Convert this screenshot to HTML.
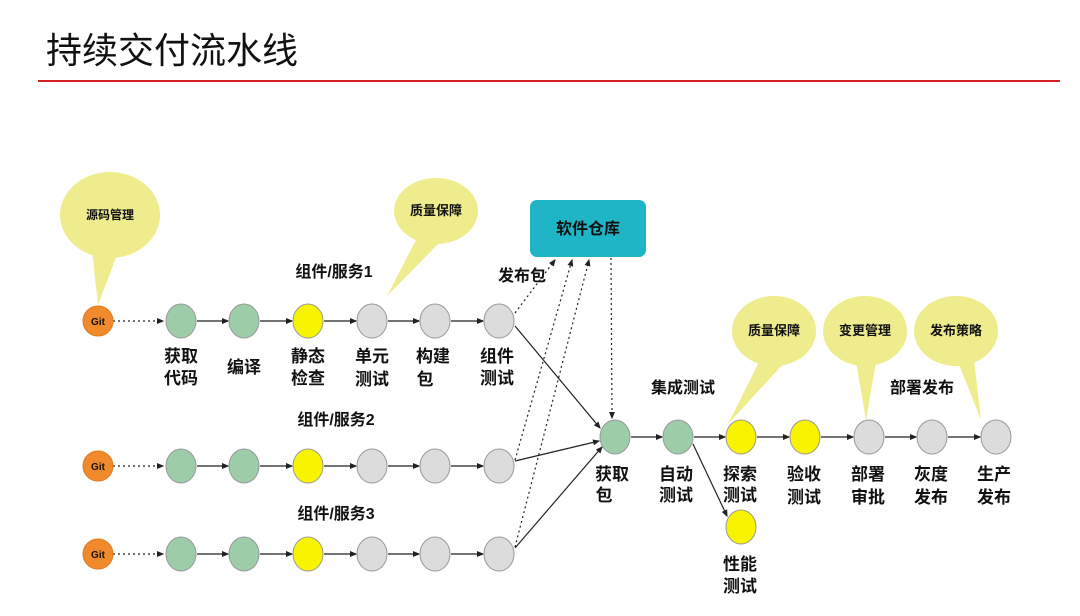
<!DOCTYPE html>
<html><head><meta charset="utf-8"><style>
body{margin:0;background:#fff;}
svg text{font-family:"Liberation Sans","Noto Sans CJK SC",sans-serif;font-weight:bold;fill:#111;}
</style></head><body>
<svg width="1080" height="611" viewBox="0 0 1080 611" xmlns="http://www.w3.org/2000/svg">
<defs>
<marker id="a" markerWidth="6" markerHeight="6" refX="5" refY="3" orient="auto"><path d="M0,0.5 L6,3 L0,5.5z" fill="#222"/></marker>
</defs>
<text x="46" y="63" font-size="36" style="font-weight:normal">持续交付流水线</text>
<line x1="38" y1="81" x2="1060" y2="81" stroke="#d42020" stroke-width="2"/>

<g fill="#eeec8c">
<ellipse cx="110" cy="215" rx="50" ry="43"/><path d="M92,250 L98,305 L118,252z"/>
<ellipse cx="436" cy="211" rx="42" ry="33"/><path d="M418,236 L387,296 L440,242z"/>
<ellipse cx="774" cy="331" rx="42" ry="35"/><path d="M760,360 L728,424 L785,362z"/>
<ellipse cx="865" cy="331" rx="42" ry="35"/><path d="M856,362 L866,420 L876,362z"/>
<ellipse cx="956" cy="331" rx="42" ry="35"/><path d="M958,362 L981,420 L974,360z"/>
</g>
<g font-size="12"><text x="110" y="219" text-anchor="middle">源码管理</text>
<text x="436" y="215" text-anchor="middle" font-size="13">质量保障</text>
<text x="774" y="335" text-anchor="middle" font-size="13">质量保障</text>
<text x="865" y="335" text-anchor="middle" font-size="13">变更管理</text>
<text x="956" y="335" text-anchor="middle" font-size="13">发布策略</text></g>

<rect x="530" y="200" width="116" height="57" rx="7" fill="#1fb5c6"/>
<text x="588" y="234" text-anchor="middle" font-size="16">软件仓库</text>

<g stroke="#222" stroke-width="1.2" fill="none">
<g stroke-dasharray="2,3" marker-end="url(#a)">
<line x1="113" y1="321" x2="163" y2="321"/><line x1="113" y1="466" x2="163" y2="466"/><line x1="113" y1="554" x2="163" y2="554"/>
<line x1="515" y1="313" x2="555" y2="260"/>
<line x1="515" y1="460" x2="572" y2="260"/>
<line x1="515" y1="547" x2="589" y2="260"/>
<line x1="611" y1="258" x2="612" y2="418"/>
</g>
<g marker-end="url(#a)">
<line x1="197" y1="321" x2="228" y2="321"/><line x1="260" y1="321" x2="292" y2="321"/><line x1="324" y1="321" x2="356" y2="321"/><line x1="388" y1="321" x2="419" y2="321"/><line x1="451" y1="321" x2="483" y2="321"/>
<line x1="197" y1="466" x2="228" y2="466"/><line x1="260" y1="466" x2="292" y2="466"/><line x1="324" y1="466" x2="356" y2="466"/><line x1="388" y1="466" x2="419" y2="466"/><line x1="451" y1="466" x2="483" y2="466"/>
<line x1="197" y1="554" x2="228" y2="554"/><line x1="260" y1="554" x2="292" y2="554"/><line x1="324" y1="554" x2="356" y2="554"/><line x1="388" y1="554" x2="419" y2="554"/><line x1="451" y1="554" x2="483" y2="554"/>
<line x1="515" y1="326" x2="600" y2="428"/>
<line x1="515" y1="461" x2="599" y2="441"/>
<line x1="515" y1="548" x2="602" y2="447"/>
<line x1="631" y1="437" x2="662" y2="437"/><line x1="694" y1="437" x2="725" y2="437"/><line x1="757" y1="437" x2="789" y2="437"/><line x1="821" y1="437" x2="853" y2="437"/><line x1="885" y1="437" x2="916" y2="437"/><line x1="948" y1="437" x2="980" y2="437"/>
<line x1="693" y1="444" x2="727" y2="516"/>
</g></g>

<g stroke="#999" stroke-width="1">
<circle cx="98" cy="321" r="15" fill="#f08a2a" stroke="#e07a20"/>
<circle cx="98" cy="466" r="15" fill="#f08a2a" stroke="#e07a20"/>
<circle cx="98" cy="554" r="15" fill="#f08a2a" stroke="#e07a20"/>
<g fill="#9dcca9"><ellipse cx="181" cy="321" rx="15" ry="17"/><ellipse cx="244" cy="321" rx="15" ry="17"/><ellipse cx="181" cy="466" rx="15" ry="17"/><ellipse cx="244" cy="466" rx="15" ry="17"/><ellipse cx="181" cy="554" rx="15" ry="17"/><ellipse cx="244" cy="554" rx="15" ry="17"/><ellipse cx="615" cy="437" rx="15" ry="17"/><ellipse cx="678" cy="437" rx="15" ry="17"/></g>
<g fill="#f8f400"><ellipse cx="308" cy="321" rx="15" ry="17"/><ellipse cx="308" cy="466" rx="15" ry="17"/><ellipse cx="308" cy="554" rx="15" ry="17"/><ellipse cx="741" cy="437" rx="15" ry="17"/><ellipse cx="805" cy="437" rx="15" ry="17"/><ellipse cx="741" cy="527" rx="15" ry="17"/></g>
<g fill="#dcdcdc"><ellipse cx="372" cy="321" rx="15" ry="17"/><ellipse cx="435" cy="321" rx="15" ry="17"/><ellipse cx="499" cy="321" rx="15" ry="17"/><ellipse cx="372" cy="466" rx="15" ry="17"/><ellipse cx="435" cy="466" rx="15" ry="17"/><ellipse cx="499" cy="466" rx="15" ry="17"/><ellipse cx="372" cy="554" rx="15" ry="17"/><ellipse cx="435" cy="554" rx="15" ry="17"/><ellipse cx="499" cy="554" rx="15" ry="17"/><ellipse cx="869" cy="437" rx="15" ry="17"/><ellipse cx="932" cy="437" rx="15" ry="17"/><ellipse cx="996" cy="437" rx="15" ry="17"/></g>
</g>
<g font-size="10" text-anchor="middle"><text x="98" y="325">Git</text><text x="98" y="470">Git</text><text x="98" y="558">Git</text></g>

<g font-size="16" text-anchor="middle">
<text x="334" y="277">组件/服务1</text><text x="336" y="425">组件/服务2</text><text x="336" y="519">组件/服务3</text>
<text x="522" y="281">发布包</text><text x="683" y="393">集成测试</text><text x="922" y="393">部署发布</text>
</g>
<g font-size="17" text-anchor="middle">
<text x="181" y="362">获取</text><text x="181" y="384">代码</text>
<text x="244" y="373">编译</text>
<text x="308" y="362">静态</text><text x="308" y="384">检查</text>
<text x="372" y="362">单元</text><text x="372" y="385">测试</text>
<text x="433" y="362">构建</text><text x="425" y="385">包</text>
<text x="497" y="362">组件</text><text x="497" y="384">测试</text>
<text x="612" y="480">获取</text><text x="604" y="501">包</text>
<text x="676" y="480">自动</text><text x="676" y="501">测试</text>
<text x="740" y="480">探索</text><text x="740" y="501">测试</text>
<text x="804" y="480">验收</text><text x="804" y="503">测试</text>
<text x="868" y="480">部署</text><text x="868" y="503">审批</text>
<text x="931" y="480">灰度</text><text x="931" y="503">发布</text>
<text x="994" y="480">生产</text><text x="994" y="503">发布</text>
<text x="740" y="570">性能</text><text x="740" y="592">测试</text>
</g>
</svg>
</body></html>
